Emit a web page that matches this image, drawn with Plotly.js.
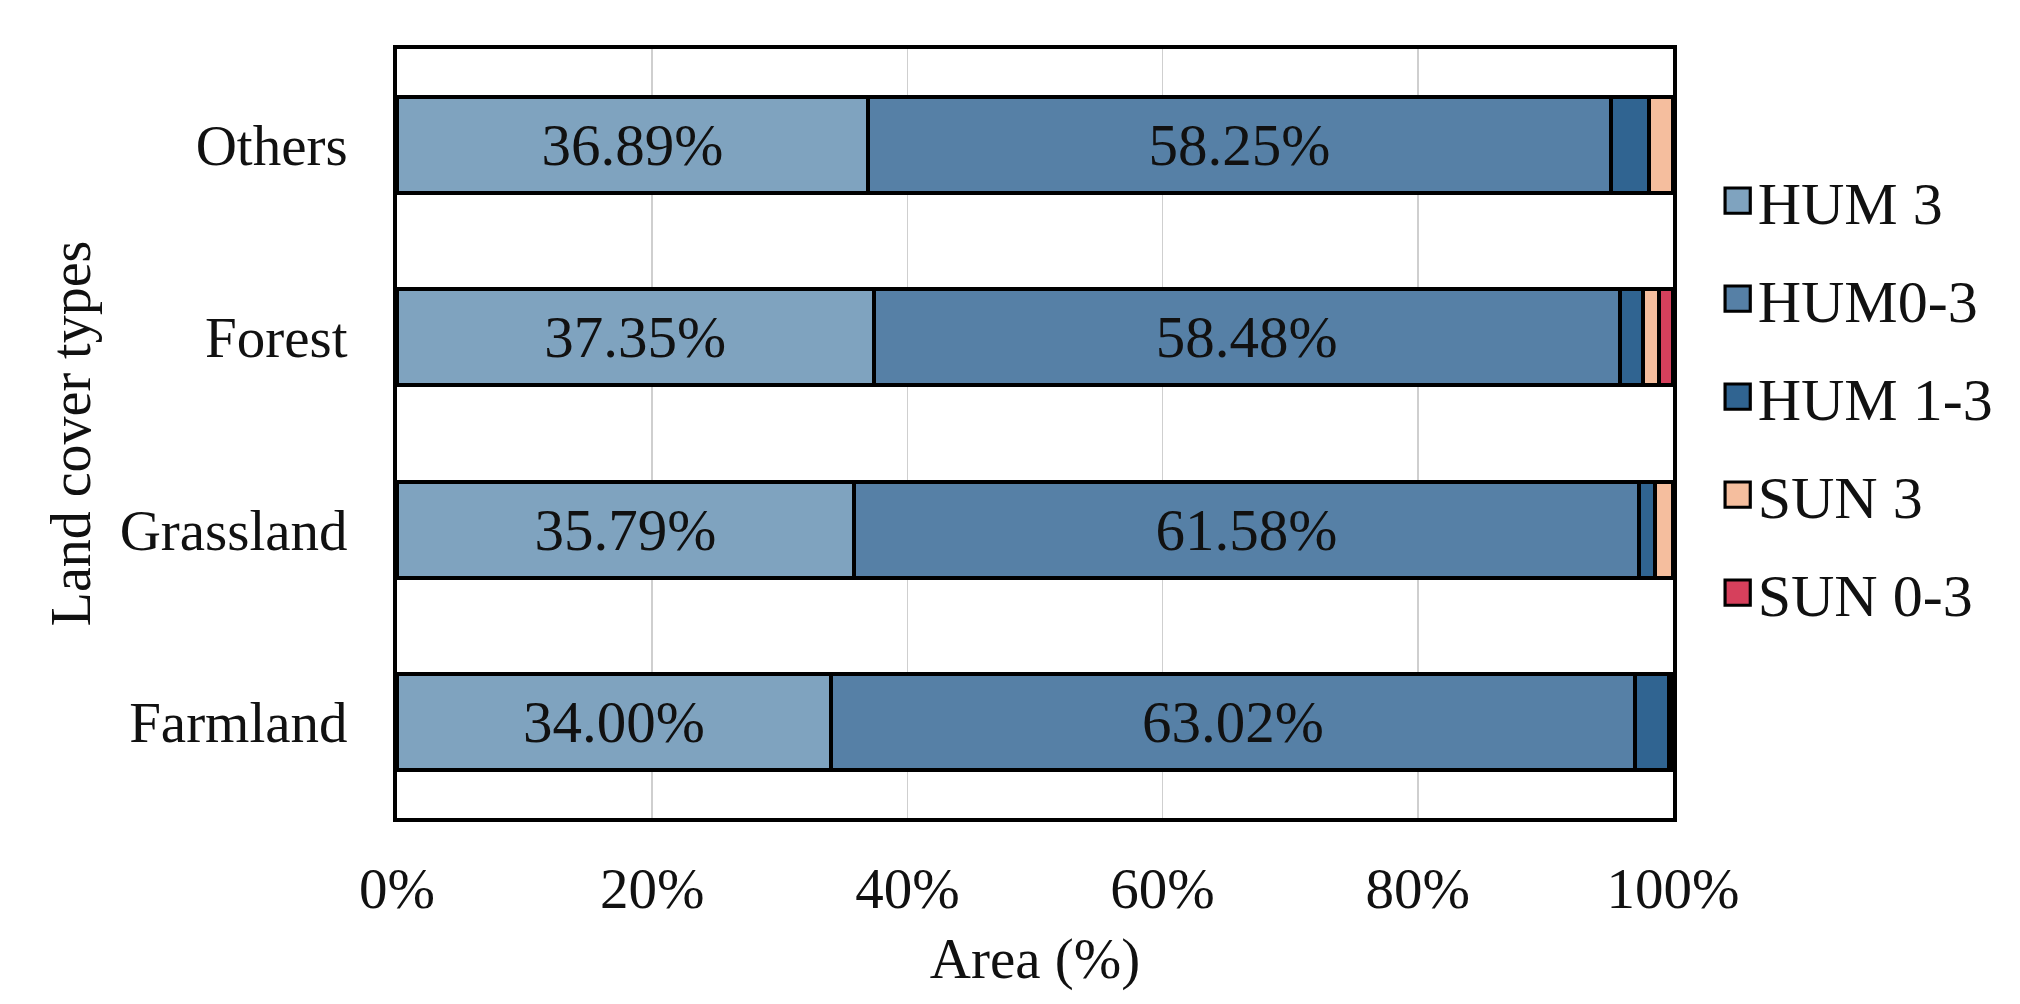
<!DOCTYPE html>
<html>
<head>
<meta charset="utf-8">
<script src="https://cdn.plot.ly/plotly-3.0.1.min.js"></script>
<style>html,body{margin:0;padding:0;background:#fff;}</style>
</head>
<body>
<div id="chart" style="width:2020px;height:1004px;"></div>
<script>
const categories = ['Farmland', 'Grassland', 'Forest', 'Others'];
const seriesNames = ['HUM 3', 'HUM0-3', 'HUM 1-3', 'SUN 3', 'SUN 0-3'];
const hum3   = [34.00, 35.79, 37.35, 36.89];
const hum03  = [63.02, 61.58, 58.48, 58.25];
const hum13  = [2.70, 1.23, 1.84, 3.00];
const sun3   = [0.15, 1.40, 1.23, 1.86];
const sun03  = [0.13, 0.00, 1.10, 0.00];
const labelled = [true, true, false, false, false];
const colors = ['#7FA3BF', '#5680A6', '#306491', '#F5BE9E', '#D6405C'];
const xTicks = [0, 20, 40, 60, 80, 100];

const seriesValues = [hum3, hum03, hum13, sun3, sun03];
const serif = 'Liberation Serif, Times New Roman, serif';

const traces = seriesValues.map((vals, i) => ({
  type: 'bar',
  orientation: 'h',
  name: seriesNames[i],
  legendgroup: 'g' + i,
  y: categories,
  x: vals,
  text: labelled[i] ? vals.map(v => v.toFixed(2) + '%') : vals.map(() => ''),
  textposition: labelled[i] ? 'inside' : 'none',
  insidetextanchor: 'middle',
  textangle: 0,
  textfont: {family: serif, size: 59, color: '#111'},
  hoverinfo: 'name+x',
  marker: {color: colors[i], line: {color: '#000', width: 4}}
}));

const layout = {
  width: 2020,
  height: 1004,
  margin: {l: 397, r: 347, t: 49, b: 186},
  paper_bgcolor: '#fff',
  plot_bgcolor: '#fff',
  barmode: 'stack',
  bargap: 0.5,
  showlegend: true,
  font: {family: serif, color: '#111', size: 56},
  xaxis: {
    range: [0, 100],
    tickvals: xTicks,
    ticktext: xTicks.map(v => v + '%'),
    showgrid: true,
    gridcolor: '#cfcfcf',
    gridwidth: 1.5,
    zeroline: false,
    showline: true,
    linecolor: '#000',
    linewidth: 4,
    mirror: true,
    ticks: '',
    ticklabelstandoff: 18,
    tickfont: {family: serif, size: 57, color: '#111'},
    title: {text: 'Area (%)', font: {family: serif, size: 57, color: '#111'}, standoff: 20}
  },
  yaxis: {
    type: 'category',
    categoryorder: 'array',
    categoryarray: categories,
    range: [-0.5, 3.5],
    showgrid: false,
    zeroline: false,
    showline: true,
    linecolor: '#000',
    linewidth: 4,
    mirror: true,
    ticks: '',
    ticklabelstandoff: 34,
    tickfont: {family: serif, size: 57, color: '#111'},
    title: {text: 'Land cover types', font: {family: serif, size: 56, color: '#111'}, standoff: 12}
  },
  legend: {
    x: 1.035,
    xanchor: 'left',
    y: 0.862,
    yanchor: 'top',
    traceorder: 'grouped',
    tracegroupgap: 17,
    font: {family: serif, size: 60, color: '#111'},
    bgcolor: 'rgba(0,0,0,0)',
    itemwidth: 30
  }
};

Plotly.newPlot('chart', traces, layout, {staticPlot: true, displayModeBar: false}).then(gd => {
  gd.querySelectorAll('.legend .legendpoints path').forEach(p => {
    p.setAttribute('transform', 'translate(20,0) scale(2.1)');
    p.style.strokeWidth = '1.5px';
  });
});
</script>
</body>
</html>
